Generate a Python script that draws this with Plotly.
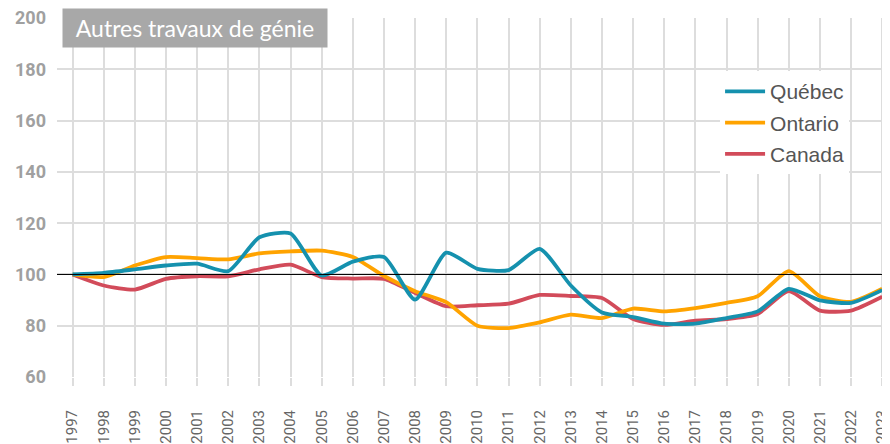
import plotly.graph_objects as go

years = list(range(1997, 2024))
quebec = [100, 100.6, 102, 103.5, 104.2, 101.3, 114.5, 116, 99.6, 105, 106.8, 90.2, 108.5,
          102.2, 101.7, 110, 95.7, 85.2, 83.4, 80.8, 80.8, 83, 85.6, 94.4, 89.9, 88.9, 93.9]
ontario = [100, 99, 103.5, 106.8, 106.4, 105.9, 108.2, 109, 109.3, 106.8, 99.4, 93.5, 89.2,
           80, 79.1, 81.3, 84.3, 83, 86.7, 85.6, 86.9, 88.9, 91.5, 101.3, 91.5, 89.3, 94.4]
canada = [100, 95.7, 94.1, 98.3, 99.3, 99.3, 102, 103.8, 99, 98.4, 98.3, 92.8, 87.6,
          88, 88.6, 92, 91.6, 90.8, 82.6, 80.3, 82, 82.6, 84.6, 93.5, 85.9, 85.9, 91.3]
ytick_vals = [60, 80, 100, 120, 140, 160, 180, 200]
title_text = "Autres travaux de génie"

series = [
    ("Canada", canada, "#d24b5a", 3),
    ("Ontario", ontario, "#ffa300", 2),
    ("Québec", quebec, "#1591ae", 1),
]

fig = go.Figure()
for name, vals, color, rank in series:
    fig.add_trace(go.Scatter(
        x=years, y=vals, name=name, mode="lines",
        line=dict(color=color, width=3.8, shape="spline", smoothing=0.6),
        legendrank=rank, legendgroup=name,
    ))

fig.add_shape(type="line", xref="paper", x0=0, x1=1, yref="y", y0=100, y1=100,
              line=dict(color="black", width=1))

fig.add_annotation(
    text=title_text, xref="paper", yref="paper", x=0.006, y=1.028,
    xanchor="left", yanchor="top", showarrow=False,
    font=dict(family="Lato, Open Sans, sans-serif", size=23, color="white"),
    bgcolor="#a8a8a8", width=264, height=38, borderpad=0, align="center",
)

fig.update_layout(
    width=882, height=436,
    margin=dict(l=49, r=0, t=10, b=67),
    paper_bgcolor="white", plot_bgcolor="white",
    showlegend=True,
    legend=dict(
        x=0.796, y=0.852, xanchor="left", yanchor="top",
        bgcolor="white", borderwidth=0, tracegroupgap=1, itemwidth=40,
        font=dict(family="Liberation Sans, Arial, sans-serif", size=21, color="#555555"),
    ),
    xaxis=dict(
        range=[1996.5, 2023.25], tickmode="array", tickvals=years,
        ticktext=[str(y) for y in years], tickangle=-90, automargin=False,
        showgrid=True, gridcolor="#dddddd", gridwidth=1.5,
        ticks="outside", ticklen=8, tickcolor="#dddddd", tickwidth=1.5,
        ticklabelstandoff=18, ticklabeloverflow="allow", zeroline=False, showline=False,
        tickfont=dict(family="Roboto, sans-serif", size=15, color="#666666"),
    ),
    yaxis=dict(
        range=[60, 200.05], tickmode="array", tickvals=ytick_vals, automargin=False,
        showgrid=True, gridcolor="#dddddd", gridwidth=1.5,
        zeroline=False, showline=False, ticklabelstandoff=10, ticklabeloverflow="allow",
        tickfont=dict(family="Roboto, sans-serif", size=18, color="#a0a0a0", weight="bold"),
    ),
)

fig.write_html("out.html")
